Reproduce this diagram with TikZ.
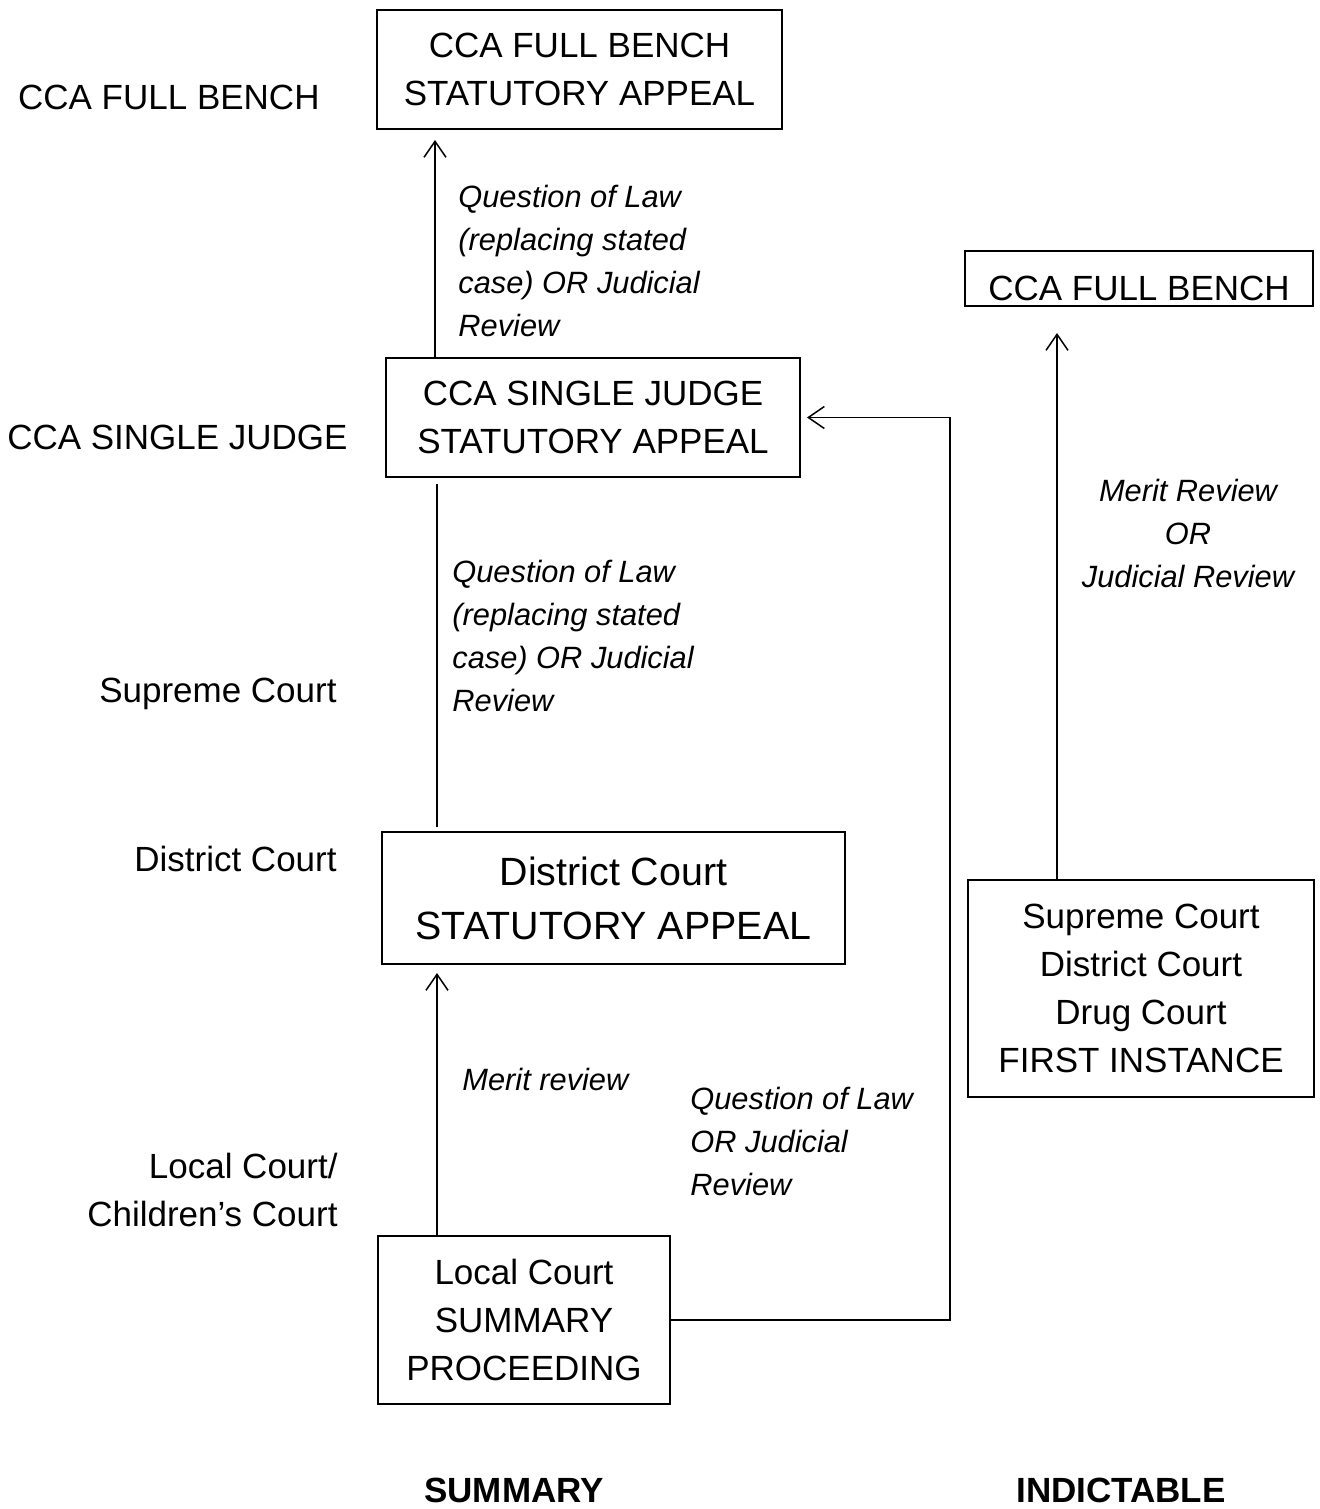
\documentclass[tikz,border=0pt]{standalone}
\usepackage{fontspec}
\setmainfont{Liberation Sans}
\usetikzlibrary{arrows.meta}
\begin{document}
\begin{tikzpicture}[x=0.5pt,y=-0.5pt,
  court/.style={draw,line width=1pt,align=center,inner sep=0pt,font=\fontsize{17.5}{24}\selectfont},
  level/.style={inner sep=0pt,font=\fontsize{17.5}{24}\selectfont},
  route/.style={inner sep=0pt,align=left,font=\fontsize{15.4}{21.5}\selectfont\itshape},
  arr/.style={line width=0.75pt,-{Straight Barb[length=8pt,width=11pt,line width=0.75pt]}},
  ln/.style={line width=0.75pt}]
	\useasboundingbox (0,0) rectangle (1319,1509);
	% boxes
	\node[court,minimum width=202.5pt,minimum height=59.5pt] (fbench) at (579.5,69.5) {CCA FULL BENCH\\STATUTORY APPEAL};
	\node[court,minimum width=207pt,minimum height=59.5pt] (sjudge) at (593,417.5) {CCA SINGLE JUDGE\\STATUTORY APPEAL};
	\node[court,minimum width=231.5pt,minimum height=66pt,font=\fontsize{19.7}{27}\selectfont] (district) at (613.5,898) {District Court\\STATUTORY APPEAL};
	\node[court,minimum width=146pt,minimum height=84pt] (local) at (524,1320) {Local Court\\SUMMARY\\PROCEEDING};
	\node[court,minimum width=174pt,minimum height=27.5pt,text height=22pt,text depth=0pt] (fbenchR) at (1139,278.5) {CCA FULL BENCH};
	\node[court,minimum width=173pt,minimum height=108.5pt] (first) at (1141,988.5) {Supreme Court\\District Court\\Drug Court\\FIRST INSTANCE};
	% levels
	\node[level,anchor=east] (lvfb) at (320,97) {CCA FULL BENCH};
	\node[level,anchor=east] (lvsj) at (348,437) {CCA SINGLE JUDGE};
	\node[level,anchor=east] (lvsc) at (337,694) {Supreme Court};
	\node[level,anchor=east] (lvdc) at (337,859) {District Court};
	\node[level,anchor=east,align=right] (lvlc) at (338,1190) {Local Court/\\Children’s Court};
	\node[level,font=\fontsize{17.5}{24}\selectfont\bfseries] (summary) at (514,1490) {SUMMARY};
	\node[level,font=\fontsize{17.5}{24}\selectfont\bfseries] (indictable) at (1121,1490) {INDICTABLE};
	% routes
	\node[route,anchor=west] (lawA) at (458,261) {Question of Law\\(replacing stated\\case) OR Judicial\\Review};
	\node[route,anchor=west] (lawB) at (452,635.5) {Question of Law\\(replacing stated\\case) OR Judicial\\Review};
	\node[route,anchor=west] (merit) at (462,1079) {Merit review};
	\node[route,anchor=west] (lawC) at (690,1141) {Question of Law\\OR Judicial\\Review};
	\node[route,align=center] (meritR) at (1188,533) {Merit Review\\OR\\Judicial Review};
	% connectors
	\coordinate (xa) at (435,0);
	\coordinate (xb) at (437,0);
	\coordinate (xr) at (1057,0);
	\coordinate (turn) at (950,417.5);
	\draw[arr,shorten >=5pt] (sjudge.north -| xa) -- (fbench.south -| xa);
	\draw[ln,shorten <=2pt,shorten >=3pt] (district.north -| xb) -- (sjudge.south -| xb);
	\draw[arr,shorten >=4pt] (local.north -| xb) -- (district.south -| xb);
	\draw[arr,shorten >=3pt] (local.east) -| (turn) -- (sjudge.east);
	\draw[arr,shorten >=13pt] (first.north -| xr) -- (fbenchR.south -| xr);
\end{tikzpicture}
\end{document}
